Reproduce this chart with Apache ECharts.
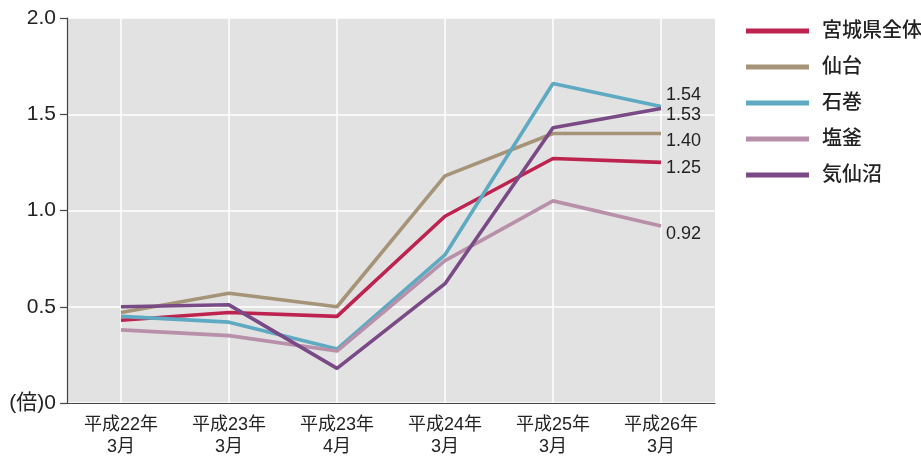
<!DOCTYPE html>
<html>
<head>
<meta charset="utf-8">
<script src="https://cdn.jsdelivr.net/npm/echarts@6/dist/echarts.min.js"></script>
<style>
  html, body { margin: 0; padding: 0; background: #ffffff; }
  #chart { width: 921px; height: 459px; }
</style>
</head>
<body>
<div id="chart"></div>
<script>
// 有効求人倍率の推移（宮城県・主要地域）
const categories = ['平成22年\n3月', '平成23年\n3月', '平成23年\n4月', '平成24年\n3月', '平成25年\n3月', '平成26年\n3月'];
const miyagi      = [0.43, 0.47, 0.45, 0.97, 1.27, 1.25];
const sendai      = [0.47, 0.57, 0.50, 1.18, 1.40, 1.40];
const ishinomaki  = [0.45, 0.42, 0.28, 0.77, 1.66, 1.54];
const shiogama    = [0.38, 0.35, 0.27, 0.74, 1.05, 0.92];
const kesennuma   = [0.50, 0.51, 0.18, 0.62, 1.43, 1.53];
const yTicks = [0, 0.5, 1.0, 1.5, 2.0];

const FONT = "'Liberation Sans', 'Noto Sans CJK JP', sans-serif";
const TEXT = '#222222';

function lineSeries(name, data, color, offset) {
  return {
    name: name,
    type: 'line',
    data: data,
    symbol: 'none',
    lineStyle: { color: color, width: 3.6 },
    itemStyle: { color: color },
    endLabel: {
      show: true,
      formatter: p => Number(p.value).toFixed(2),
      color: TEXT,
      fontFamily: FONT,
      fontSize: 18,
      distance: 5,
      offset: offset
    }
  };
}

const chart = echarts.init(document.getElementById('chart'), null, { renderer: 'canvas' });
chart.setOption({
  animation: false,
  backgroundColor: '#ffffff',
  textStyle: { fontFamily: FONT },
  grid: {
    left: 67, right: 206, top: 18, bottom: 56,
    show: true, backgroundColor: '#e2e2e2', borderWidth: 0
  },
  legend: {
    orient: 'vertical',
    left: 746,
    top: 21,
    padding: 0,
    itemWidth: 63,
    itemHeight: 5,
    itemGap: 16,
    icon: 'rect',
    textStyle: {
      color: TEXT, fontSize: 20, fontFamily: FONT, fontWeight: 500,
      padding: [0, 0, 0, 8]
    },
    data: ['宮城県全体', '仙台', '石巻', '塩釜', '気仙沼']
  },
  xAxis: {
    type: 'category',
    data: categories,
    boundaryGap: true,
    axisLine: { lineStyle: { color: '#444444', width: 1.2 } },
    axisTick: { alignWithLabel: true, length: 8, lineStyle: { color: '#444444', width: 1.2 } },
    splitLine: { show: true, alignWithLabel: true, lineStyle: { color: '#ffffff', width: 1.5 } },
    axisLabel: {
      color: TEXT, fontSize: 18, fontFamily: FONT, lineHeight: 22, margin: 11
    }
  },
  yAxis: {
    type: 'value',
    min: yTicks[0],
    max: yTicks[yTicks.length - 1],
    interval: 0.5,
    axisLine: { show: true, lineStyle: { color: '#444444', width: 1.2 } },
    axisTick: { show: true, length: 7, lineStyle: { color: '#444444', width: 1.2 } },
    splitLine: { show: true, lineStyle: { color: '#ffffff', width: 1.5 } },
    axisLabel: {
      color: TEXT, fontSize: 21, fontFamily: FONT, margin: 11,
      formatter: v => v === 0 ? '(倍)0' : v.toFixed(1)
    }
  },
  series: [
    lineSeries('宮城県全体', miyagi, '#be2350', [0, 6]),
    lineSeries('仙台', sendai, '#a69478', [0, 8]),
    lineSeries('石巻', ishinomaki, '#5eaac2', [0, -12]),
    lineSeries('塩釜', shiogama, '#b890aa', [0, 8]),
    lineSeries('気仙沼', kesennuma, '#794a85', [0, 7])
  ]
});
</script>
</body>
</html>
